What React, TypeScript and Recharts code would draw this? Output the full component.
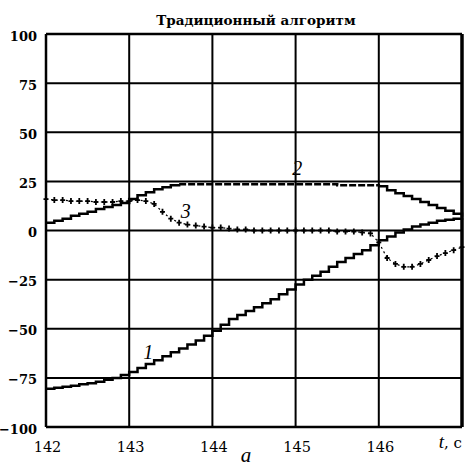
import React from 'react';
import { CartesianGrid, LineChart, Line, ReferenceDot, ReferenceLine, XAxis, YAxis } from 'recharts';

// time, s (step 0.1)
const times = [
  142.0, 142.1, 142.2, 142.3, 142.4, 142.5, 142.6, 142.7, 142.8, 142.9,
  143.0, 143.1, 143.2, 143.3, 143.4, 143.5, 143.6, 143.7, 143.8, 143.9,
  144.0, 144.1, 144.2, 144.3, 144.4, 144.5, 144.6, 144.7, 144.8, 144.9,
  145.0, 145.1, 145.2, 145.3, 145.4, 145.5, 145.6, 145.7, 145.8, 145.9,
  146.0, 146.1, 146.2, 146.3, 146.4, 146.5, 146.6, 146.7, 146.8, 146.9,
  147.0,
];

// curve 1
const curve1 = [
  -80.5, -80, -79.5, -79, -78.3, -77.7, -77, -76, -75, -73.5,
  -72, -70, -68, -66, -64, -62, -60, -58, -56, -53.5,
  -51, -48, -45, -43, -41, -39, -37, -35, -32.5, -30,
  -27.5, -25, -23, -21, -18.5, -16, -14, -12, -10, -7.5,
  -5, -3, -1, 0.5, 2, 3, 4, 5, 5.5, 6,
  6.5,
];

// curve 2
const curve2 = [
  4, 5, 6, 7.5, 8.5, 9.5, 11, 12, 13, 14,
  16, 18, 19.5, 21, 22, 23, 23.5, 23.5, 23.5, 23.5,
  23.5, 23.5, 23.5, 23.5, 23.5, 23.5, 23.5, 23.5, 23.5, 23.5,
  23.5, 23.5, 23.5, 23.5, 23.5, 23, 23, 23, 23, 23,
  22.5, 20.5, 19, 17.5, 16, 14.5, 13, 11.5, 10, 8.5,
  7,
];

// curve 3
const curve3 = [
  16, 15.5, 15.5, 15, 15, 15, 14.5, 14.5, 14.5, 15,
  15, 15.5, 15, 13.5, 9.5, 6, 4, 3, 2.5, 2,
  1.5, 1.5, 1, 0.5, 0.5, 0, 0, 0, 0, 0,
  0, 0, 0, 0, 0, -0.5, -0.5, -0.5, -1, -1.5,
  -6, -14, -17, -18.5, -18.5, -17, -15, -13, -11.5, -10,
  -8.5,
];

const xTicks = [142, 143, 144, 145, 146, 147];
const yTicks = [-100, -75, -50, -25, 0, 25, 50, 75, 100];

const SERIF = 'DejaVu Serif';
const ITALIC = 'Liberation Serif';

// curve 2 is dashed on its flat stretch
const DASH_FROM = 143.6;
const DASH_TO = 146.0;

const data = times.map((t, i) => ({
  t,
  c1: curve1[i],
  c2a: t <= DASH_FROM + 1e-9 ? curve2[i] : null,
  c2b: t >= DASH_FROM - 1e-9 && t <= DASH_TO + 1e-9 ? curve2[i] : null,
  c2c: t >= DASH_TO - 1e-9 ? curve2[i] : null,
  c3: curve3[i],
}));

const font = (family: string, size: number, extra: React.CSSProperties = {}): React.CSSProperties => ({
  fontFamily: family,
  fontSize: size,
  ...extra,
});

const XTick = (props: any) => {
  const { x, y, payload } = props;
  if (payload.value === 147) {
    return (
      <text x={x} y={y + 13} textAnchor="end" fill="#000">
        <tspan style={font(ITALIC, 19, { fontStyle: 'italic' })}>t</tspan>
        <tspan style={font(SERIF, 15)}>, c</tspan>
      </text>
    );
  }
  return (
    <text x={x + 1.5} y={y + 17} textAnchor="middle" style={font(SERIF, 14.5)} fill="#000">
      {payload.value}
    </text>
  );
};

const YTick = (props: any) => {
  const { y, payload } = props;
  const v = payload.value;
  const label = v < 0 ? `\u2212${-v}` : `${v}`;
  return (
    <text x={37} y={y + 6.5} textAnchor="end" style={font(SERIF, 13, { fontWeight: 'bold' })} fill="#000">
      {label}
    </text>
  );
};

// small "+" marker for curve 3
const PlusDot = (props: any) => {
  const { cx, cy } = props;
  if (cx == null || cy == null) return null;
  return (
    <path
      d={`M${cx - 2.5},${cy}H${cx + 2.5}M${cx},${cy - 3}V${cy + 3}`}
      stroke="#000"
      strokeWidth={1.8}
      fill="none"
    />
  );
};

const CurveLabel = (text: string) => (props: any) => {
  const { viewBox } = props;
  return (
    <text
      x={viewBox.x}
      y={viewBox.y}
      textAnchor="middle"
      dominantBaseline="central"
      style={font(ITALIC, 20, { fontStyle: 'italic' })}
      fill="#000"
    >
      {text}
    </text>
  );
};

export default function App() {
  return (
    <div style={{ position: 'absolute', left: 0, top: 0, width: 467, height: 466, background: '#fff' }}>
      <LineChart width={467} height={466} data={data} margin={{ top: 34, right: 5, bottom: 0, left: 0 }}>
        <CartesianGrid stroke="#000" strokeWidth={2} horizontalValues={yTicks} verticalValues={xTicks} />
        <XAxis
          dataKey="t"
          type="number"
          domain={[142, 147]}
          ticks={xTicks}
          axisLine={false}
          tickLine={false}
          height={39}
          tick={<XTick />}
          interval={0}
        />
        <YAxis
          type="number"
          domain={[-100, 100]}
          ticks={yTicks}
          axisLine={false}
          tickLine={false}
          width={46}
          tick={<YTick />}
          interval={0}
        />
        <ReferenceLine x={147} stroke="#000" strokeWidth={3.5} />
        <ReferenceLine x={142} stroke="#000" strokeWidth={2.5} />
        <ReferenceLine y={100} stroke="#000" strokeWidth={2.5} />
        <ReferenceLine y={-100} stroke="#000" strokeWidth={2.5} />
        <Line dataKey="c1" type="stepAfter" stroke="#000" strokeWidth={2.5} dot={false} isAnimationActive={false} />
        <Line dataKey="c2a" type="stepAfter" stroke="#000" strokeWidth={2.5} dot={false} isAnimationActive={false} />
        <Line dataKey="c2b" type="stepAfter" stroke="#000" strokeWidth={2.5} strokeDasharray="7 2" dot={false} isAnimationActive={false} />
        <Line dataKey="c2c" type="stepAfter" stroke="#000" strokeWidth={2.5} dot={false} isAnimationActive={false} />
        <Line dataKey="c3" type="linear" stroke="#000" strokeWidth={1.2} strokeDasharray="2 3" dot={<PlusDot />} isAnimationActive={false} />
        <ReferenceDot x={143.23} y={-62} r={0} stroke="none" label={CurveLabel('1')} />
        <ReferenceDot x={145.02} y={32} r={0} stroke="none" label={CurveLabel('2')} />
        <ReferenceDot x={143.68} y={10} r={0} stroke="none" label={CurveLabel('3')} />
        <text x={256} y={25} textAnchor="middle" style={font(SERIF, 13.5, { fontWeight: 'bold' })} fill="#000">
          Традиционный алгоритм
        </text>
        <text x={246} y={462} textAnchor="middle" style={font(ITALIC, 21, { fontStyle: 'italic' })} fill="#000">
          a
        </text>
      </LineChart>
    </div>
  );
}
